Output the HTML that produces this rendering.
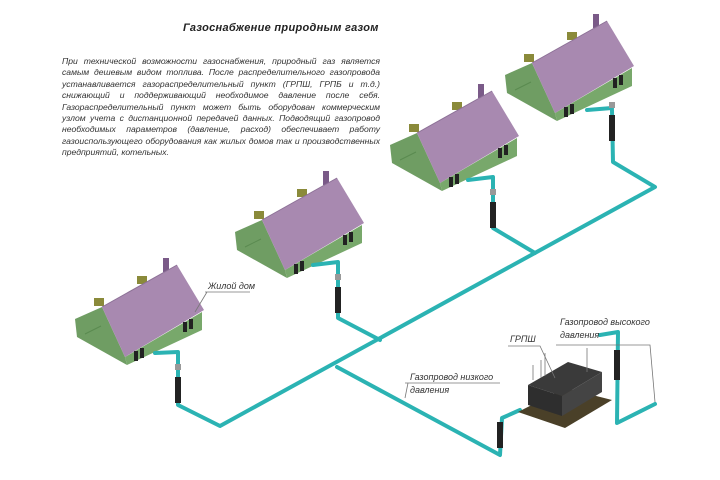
<!DOCTYPE html>
<html><head><meta charset="utf-8"><style>
body{margin:0;background:#fff;width:720px;height:480px;overflow:hidden;font-family:"Liberation Sans",sans-serif}
.t{position:absolute;left:183px;top:22px;font-size:11px;font-style:italic;font-weight:bold;color:#222;letter-spacing:0.3px}
.p{position:absolute;left:62px;top:56px;width:318px;font-size:8.6px;line-height:11.4px;font-style:italic;color:#333;text-align:justify}
svg{position:absolute;left:0;top:0}
</style></head><body>
<svg width="720" height="480" viewBox="0 0 720 480">
<defs>
<g id="house">
 <rect x="19" y="-24" width="10" height="8" fill="#8a8a3a"/>
 <rect x="62" y="-46" width="10" height="8" fill="#8a8a3a"/>
 <rect x="88" y="-64" width="6" height="14" fill="#7a5a88"/>
 <polygon points="0,-3 27,-15 50,35 52,43 2,15" fill="#6f9d63"/>
 <polygon points="50,35 127,-10 127,8 52,43" fill="#78a86b"/>
 <polygon points="27,-15 102,-57 129,-12 50,35" fill="#a889b0"/>
 <line x1="27" y1="-15" x2="102" y2="-57" stroke="#8d7197" stroke-width="1"/>
 <rect x="59" y="29" width="4" height="10" fill="#222"/><rect x="65" y="26" width="4" height="10" fill="#222"/>
 <rect x="108" y="0" width="4" height="10" fill="#222"/><rect x="114" y="-3" width="4" height="10" fill="#222"/>
 <line x1="10" y1="12" x2="26" y2="4" stroke="#5a8a50"/>
</g>
<g id="riser">
 <rect x="-3" y="12" width="6" height="6" fill="#999"/>
 <rect x="-3" y="25" width="6" height="26" fill="#222"/>
</g>
</defs>
<use href="#house" x="75" y="322"/>
<use href="#house" x="235" y="235"/>
<use href="#house" x="390" y="148"/>
<use href="#house" x="505" y="78"/>
<g fill="none" stroke="#2bb3b3" stroke-width="4" stroke-linejoin="round" stroke-linecap="round">
 <polyline points="155,353 178,352 178,405 220,426 655,187 613,162 612,110"/>
 <polyline points="313,265 338,262 338,318 380,340"/>
 <polyline points="468,180 493,177 493,228 535,253"/>
 <polyline points="587,110 612,108"/>
 <polyline points="337,367 500,455 502,418 520,410"/>
 <polyline points="600,335 618,332 617,423 655,404"/>
</g>
<use href="#riser" x="178" y="352"/>
<use href="#riser" x="338" y="262"/>
<use href="#riser" x="493" y="177"/>
<use href="#riser" x="612" y="90"/>
<rect x="497" y="422" width="6" height="26" fill="#222"/>
<rect x="614" y="350" width="6" height="30" fill="#222"/>
<polygon points="518,412 565,388 612,400 565,428" fill="#4a4028"/>
<polygon points="528,385 568,362 602,372 562,396" fill="#3a3a3a"/>
<polygon points="528,385 562,396 562,416 528,405" fill="#2e2e2e"/>
<polygon points="562,396 602,372 602,392 562,416" fill="#444"/>
<g stroke="#777" stroke-width="0.8" fill="none">
 <line x1="533" y1="380" x2="533" y2="365"/><line x1="541" y1="378" x2="541" y2="360"/>
 <line x1="545" y1="376" x2="545" y2="353"/>
 <polyline points="508,346 540,346 555,378"/>
 <line x1="587" y1="348" x2="587" y2="372"/>
 <polyline points="556,345 650,345 655,402"/>
 <polyline points="405,383 500,383 500,383"/>
 <polyline points="408,383 405,398"/>
 <polyline points="205,292 250,292"/><polyline points="207,292 195,312"/>
</g>
<g font-family="Liberation Sans, sans-serif" font-style="italic" font-size="9" fill="#333">
 <text x="208" y="289">Жилой дом</text>
 <text x="510" y="342">ГРПШ</text>
 <text x="560" y="325">Газопровод высокого</text>
 <text x="560" y="338">давления</text>
 <text x="410" y="380">Газопровод низкого</text>
 <text x="410" y="393">давления</text>
</g>
</svg>
<div class="t">Газоснабжение природным газом</div>
<div class="p">При технической возможности газоснабжения, природный газ является самым дешевым видом топлива. После распределительного газопровода устанавливается газораспределительный пункт (ГРПШ, ГРПБ и т.д.) снижающий и поддерживающий необходимое давление после себя. Газораспределительный пункт может быть оборудован коммерческим узлом учета с дистанционной передачей данных. Подводящий газопровод необходимых параметров (давление, расход) обеспечивает работу газоиспользующего оборудования как жилых домов так и производственных предприятий, котельных.</div>
</body></html>
